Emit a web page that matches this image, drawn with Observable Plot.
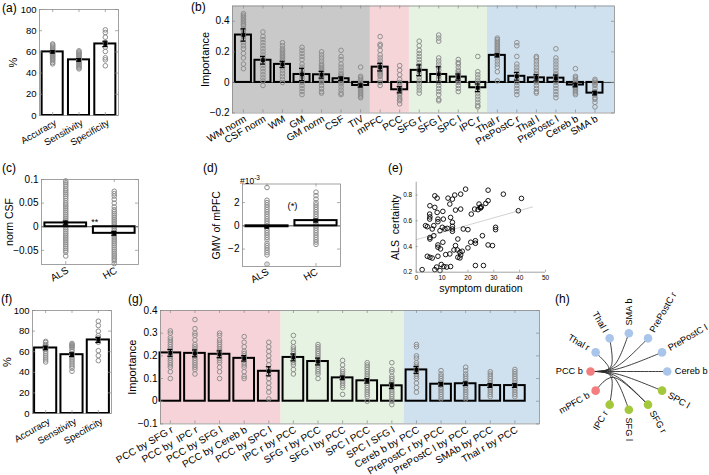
<!DOCTYPE html>
<html><head><meta charset="utf-8">
<script src="https://cdn.jsdelivr.net/npm/d3@7"></script>
<script src="https://cdn.jsdelivr.net/npm/@observablehq/plot@0.6"></script>
<style>
body{margin:0;background:#fff;}
#wrap{position:relative;width:709px;height:475px;overflow:hidden;font-family:"Liberation Sans",Arial,sans-serif;background:#fff;}
#wrap svg{position:absolute;left:0;top:0;}
.lab{position:absolute;font-size:12px;line-height:12px;white-space:nowrap;}
</style></head><body><div id="wrap"></div>
<script>
// ---------- data ----------
const aCats = ["Accuracy","Sensitivity","Specificity"];
const aVals = [60, 52.5, 67.5];
const aErrs = [1, 1.2, 2.5];
const aDots = [
  [67.5,66.5,65.5,64.5,63.5,62.5,61.5,60.5,59.5,58.5,57.5,56.5,55.5,54.5,53.5,52.5,51.5,50,48.7],
  [61,60,59,58,57,56,55,54,53,52,51,50,49,48,47,46,45,44],
  [80.8,78.3,73.9,69,64.5,60.4,54.4,52.5,46.9]
];

const bCats = ["WM norm","CSF norm","WM","GM","GM norm","CSF","TIV","mPFC","PCC","SFG r","SFG l","SPC l","IPC r","Thal r","PrePostC r","Thal l","PrePostc l","Cereb b","SMA b"];
const bVals = [0.31,0.145,0.118,0.052,0.05,0.024,-0.02,0.1,-0.048,0.079,0.052,0.035,-0.035,0.177,0.04,0.03,0.028,-0.017,-0.07];
const bErrs = [0.04,0.025,0.02,0.04,0.022,0.012,0.01,0.025,0.02,0.035,0.05,0.02,0.025,0.01,0.025,0.02,0.02,0.012,0.012];
const bDots = [
  [0.45,0.44,0.43,0.42,0.41,0.40,0.39,0.38,0.37,0.35,0.34,0.32,0.30,0.28,0.26,0.24,0.22,0.19,0.16,0.12,0.09],
  [0.33,0.30,0.28,0.26,0.24,0.22,0.20,0.18,0.16,0.15,0.13,0.11,0.09,0.07,0.05,0.03,0.01,-0.02],
  [0.26,0.24,0.22,0.21,0.20,0.19,0.18,0.17,0.16,0.15,0.14,0.12,0.10,0.08,0.06,0.04,0.02,0.00],
  [0.23,0.21,0.19,0.17,0.15,0.12,0.10,0.08,0.06,0.04,0.02,0.00,-0.02,-0.04,-0.06,-0.08],
  [0.20,0.18,0.16,0.14,0.12,0.11,0.10,0.09,0.08,0.07,0.06,0.05,0.04,0.03,0.02,0.01,0.00,-0.02,-0.04,-0.06,-0.07],
  [0.21,0.17,0.15,0.12,0.10,0.08,0.06,0.05,0.04,0.03,0.02,0.01,0.00,-0.01,-0.03,-0.05,-0.07,-0.08],
  [0.10,0.04,0.03,0.02,0.01,0.00,-0.01,-0.02,-0.03,-0.04,-0.05,-0.06,-0.07,-0.08,-0.09,-0.10],
  [0.30,0.25,0.24,0.21,0.18,0.16,0.14,0.12,0.11,0.10,0.09,0.08,0.07,0.06,0.05,0.04,0.02,0.00,-0.02],
  [0.11,0.08,0.05,0.02,0.00,-0.02,-0.03,-0.04,-0.05,-0.06,-0.07,-0.08,-0.10,-0.11,-0.12,-0.14],
  [0.27,0.24,0.21,0.19,0.17,0.15,0.13,0.11,0.09,0.07,0.05,0.03,0.01,-0.01,-0.03,-0.05,-0.07],
  [0.31,0.29,0.27,0.16,0.14,0.12,0.10,0.08,0.06,0.04,0.02,0.00,-0.02,-0.04,-0.06,-0.08,-0.11,-0.12],
  [0.15,0.13,0.12,0.10,0.08,0.07,0.06,0.05,0.04,0.03,0.02,0.01,0.00,-0.02,-0.04,-0.06],
  [0.17,0.07,0.05,0.03,0.01,-0.01,-0.03,-0.05,-0.07,-0.09,-0.11,-0.13,-0.15,-0.16],
  [0.29,0.28,0.27,0.26,0.25,0.24,0.23,0.22,0.21,0.20,0.19,0.18,0.16,0.14,0.12,0.10,0.07,0.01],
  [0.26,0.24,0.17,0.12,0.10,0.08,0.06,0.04,0.02,0.00,-0.02,-0.04,-0.06,-0.08],
  [0.17,0.16,0.14,0.12,0.10,0.08,0.06,0.05,0.04,0.03,0.02,0.01,0.00,-0.02,-0.04,-0.06,-0.07],
  [0.22,0.16,0.14,0.12,0.10,0.08,0.06,0.05,0.04,0.03,0.02,0.01,0.00,-0.02,-0.04,-0.06,-0.08,-0.10],
  [0.09,0.04,0.03,0.02,0.01,0.00,-0.01,-0.02,-0.03,-0.04,-0.05,-0.06,-0.07,-0.08],
  [0.02,0.01,0.00,-0.01,-0.02,-0.04,-0.06,-0.08,-0.10,-0.11,-0.13,-0.16]
];
const bBandStart = [0.44, 7.5, 9.5, 13.5];
const bBandEnd = [7.5, 9.5, 13.5, 20];
const bBandColor = ["#c9c9c9", "#f6d5d9", "#e6f3e2", "#cfe1ef"];

const cCats = ["ALS","HC"];
const cVals = [0.008, -0.014];
const cErrs = [0.004, 0.004];
const cDots = [
  [0.097,0.093,0.089,0.085,0.08,0.076,0.072,0.068,0.064,0.06,0.055,0.05,0.046,0.042,0.038,0.034,0.03,0.026,0.022,0.018,0.014,0.01,0.006,0.002,-0.002,-0.006,-0.01,-0.014,-0.018,-0.022,-0.026,-0.03,-0.034,-0.038,-0.042,-0.046,-0.05,-0.054,-0.062],
  [0.075,0.07,0.065,0.058,0.05,0.042,0.036,0.032,0.028,0.024,0.02,0.016,0.012,0.008,0.004,0,-0.004,-0.008,-0.012,-0.016,-0.02,-0.024,-0.028,-0.032,-0.036,-0.04,-0.044,-0.048,-0.052,-0.056,-0.06,-0.064,-0.068,-0.072,-0.078]
];

const dCats = ["ALS","HC"];
const dVals = [-0.08, 0.45];
const dErrs = [0.1, 0.12];
const dDots = [
  [3.3,2.2,2.0,1.8,1.6,1.4,1.2,1.0,0.8,0.6,0.4,0.2,0,-0.2,-0.4,-0.6,-0.8,-1.0,-1.2,-1.5,-1.7,-1.9,-2.1,-2.3,-2.5,-3.3],
  [2.9,2.6,2.3,2.0,1.8,1.6,1.4,1.2,1.0,0.8,0.6,0.4,0.2,0,-0.2,-0.4,-0.6,-0.8,-1.0,-1.2,-1.4,-1.6]
];
const dBarFill = ["black", "none"];

const eScatter = [[2.3,0.22],[4.3,0.324],[5.3,0.316],[6.2,0.31],[7.2,0.22],[7.9,0.24],[8.4,0.324],[9.2,0.213],[9.7,0.26],[10.7,0.244],[11.8,0.24],[13.3,0.244],
  [5.3,0.717],[5.2,0.652],[5.3,0.63],[5.2,0.613],[5.3,0.47],[5.3,0.458],[4.3,0.554],[6.2,0.536],[6.8,0.562],[7.2,0.704],[7.2,0.794],[8.1,0.776],[8.1,0.665],
  [8.4,0.613],[8.4,0.593],[6.8,0.484],[8.4,0.412],[8.4,0.394],[9.4,0.381],[9.2,0.523],[10.1,0.549],[10.3,0.673],[10.5,0.613],[10.3,0.433],[11.4,0.337],
  [12.3,0.776],[13.0,0.73],[13.0,0.342],[13.3,0.626],[14.0,0.768],[14.9,0.8],[15.2,0.683],[17.2,0.807],[17.2,0.691],[14.0,0.588],[14.0,0.557],[14.0,0.536],
  [14.0,0.518],[12.0,0.541],[11.1,0.536],[15.2,0.407],[14.6,0.373],[15.9,0.373],[16.1,0.316],[16.9,0.311],[17.2,0.334],[16.9,0.355],[17.8,0.363],[16.1,0.458],
  [18.2,0.536],[20.0,0.531],[19.1,0.846],[20.0,0.389],[21.1,0.433],[21.3,0.652],[22.6,0.691],[22.9,0.425],[22.9,0.445],[22.9,0.252],[24.3,0.73],[24.7,0.704],
  [24.9,0.699],[25.2,0.709],[23.9,0.686],[25.6,0.484],[26.0,0.252],[26.9,0.735],[27.8,0.756],[27.8,0.838],[27.8,0.412],[29.5,0.407],[30.7,0.549],[30.7,0.531],
  [33.7,0.807],[39.5,0.678],[40.7,0.774],[3.6,0.562]];
const eTrend = [[0,0.453],[45,0.708]];
const eXTicks = [0,10,20,30,40,50];
const eYTicks = [0.2,0.4,0.6,0.8];

const fCats = ["Accuracy","Sensitivity","Specificity"];
const fVals = [63.6, 57.1, 71.4];
const fErrs = [1.8, 1.8, 2.5];
const fDots = [
  [70,69,67,66,64,62,60,58,56,54,52,50],
  [68,67,66,65,64,62,60,58,56,54,52,50,48,46,44,41],
  [89.6,85.4,79.9,75.6,73.4,69.2,61,56.2,51.3]
];

const gCats = ["PCC by SFG r","PCC by  IPC r","PCC by SFG l","PCC by Cereb b","PCC by SPC l","IPC r by PCC","SFG r by PCC","SFG l by PCC","SPC l PCC","SPC l SFG l","Cereb b by PCC","PrePostC r by PCC","PrePostC l by PCC","SMAb by PCC","Thal r by PCC"];
const gVals = [0.213,0.211,0.207,0.189,0.132,0.193,0.175,0.103,0.09,0.068,0.138,0.075,0.077,0.069,0.069];
const gErrs = [0.015,0.015,0.015,0.012,0.02,0.015,0.015,0.008,0.01,0.012,0.015,0.008,0.008,0.008,0.008];
const gDots = [
  [0.31,0.30,0.28,0.27,0.26,0.25,0.24,0.23,0.22,0.21,0.20,0.19,0.18,0.17,0.16,0.15,0.13,0.10],
  [0.36,0.32,0.30,0.29,0.27,0.25,0.24,0.23,0.22,0.21,0.20,0.19,0.18,0.17,0.16,0.15,0.14,0.12],
  [0.30,0.29,0.27,0.26,0.25,0.24,0.23,0.22,0.21,0.20,0.19,0.18,0.17,0.15,0.13,0.10],
  [0.285,0.26,0.24,0.22,0.21,0.20,0.19,0.18,0.17,0.16,0.15,0.13,0.11,0.10],
  [0.26,0.24,0.22,0.20,0.18,0.16,0.14,0.12,0.10,0.08,0.06,0.04,0.01],
  [0.29,0.26,0.24,0.23,0.22,0.21,0.20,0.19,0.18,0.17,0.16,0.14,0.12],
  [0.25,0.24,0.23,0.22,0.21,0.20,0.19,0.18,0.17,0.16,0.15,0.14,0.13,0.12,0.10],
  [0.18,0.16,0.14,0.13,0.12,0.11,0.10,0.09,0.08,0.07,0.06,0.03],
  [0.17,0.16,0.15,0.14,0.13,0.12,0.11,0.10,0.09,0.08,0.07,0.06,0.05,0.04,0.03,0.02,0.00],
  [0.17,0.14,0.13,0.11,0.10,0.09,0.08,0.07,0.06,0.05,0.04,0.03,0.02,0.01,0.00,-0.015],
  [0.25,0.24,0.20,0.19,0.17,0.16,0.15,0.14,0.13,0.12,0.11,0.10,0.08,0.06,0.04],
  [0.135,0.12,0.11,0.10,0.09,0.08,0.07,0.06,0.05,0.04,0.03,0.02,0.01],
  [0.15,0.135,0.12,0.11,0.10,0.09,0.08,0.07,0.06,0.05,0.04,0.03,0.02,0.01],
  [0.13,0.12,0.11,0.10,0.09,0.08,0.07,0.06,0.05,0.04,0.03,0.02],
  [0.14,0.13,0.12,0.11,0.10,0.09,0.08,0.07,0.06,0.05,0.04,0.03,0.02]
];
const gBandStart = [0.6, 5.5, 10.5];
const gBandEnd = [5.5, 10.5, 16];
const gBandColor = ["#f6d3d8", "#e6f3e2", "#cfe1ef"];

const hNames = ["PCC b","Thal r","Thal l","SMA b","PrePostC r","PrePostC l","Cereb b","SPC l","SFG r","SFG l","IPC r","mPFC b"];
const hAngles = [180,150,120,90,60,30,0,-30,-60,-90,-120,-150];
const hGroups = ["dmn","sub","sub","sub","sub","sub","sub","fpn","fpn","fpn","fpn","dmn"];
const hGroupColor = {dmn: "#f47d7f", sub: "#a9c5ea", fpn: "#a4c83c"};
const hEdges = [["PCC b","Thal r"],["PCC b","Thal l"],["PCC b","SMA b"],["PCC b","PrePostC r"],["PCC b","PrePostC l"],["PCC b","Cereb b"],["PCC b","SPC l"],["PCC b","SFG r"],["PCC b","SFG l"],["PCC b","IPC r"],["mPFC b","SFG r"]];

// ---------- layout ----------
const W = 709, H = 475;
const FONT = "Liberation Sans, Arial, Helvetica, sans-serif";
const wrap = document.getElementById("wrap");
const fmt = v => (v < 0 ? "\u2212" : "") + Math.abs(v);
const FRAME = "#8a8a8a";

function base(frame, x, y, marks) {
  const svg = Plot.plot({
    width: W, height: H,
    marginLeft: frame[0], marginRight: W - frame[1], marginTop: frame[2], marginBottom: H - frame[3],
    x, y, marks,
    style: {fontFamily: FONT, fontSize: "10px", background: "transparent", overflow: "visible"}
  });
  wrap.appendChild(svg);
}

function innerTicks(frame, xd, yd, xt, yt, {len = 3, top = true, right = true} = {}) {
  const ky = (frame[3] - frame[2]) / (yd[1] - yd[0]);
  const kx = (frame[1] - frame[0]) / (xd[1] - xd[0]);
  const dy = len / ky, dx = len / kx;
  const st = {stroke: FRAME, strokeWidth: 0.7};
  const m = [Plot.ruleX(xt, {x: d => d, y1: yd[0], y2: yd[0] + dy, ...st})];
  if (top) m.push(Plot.ruleX(xt, {x: d => d, y1: yd[1] - dy, y2: yd[1], ...st}));
  m.push(Plot.ruleY(yt, {y: d => d, x1: xd[0], x2: xd[0] + dx, ...st}));
  if (right) m.push(Plot.ruleY(yt, {y: d => d, x1: xd[1] - dx, x2: xd[1], ...st}));
  return m;
}

function barPanel(o) {
  const {cats, vals, errs, dots, frame, xd, yd, yt, hw, bands = null, ylabel, ylabDx, ylabFs = 11,
    fs = 10, capPx = 2.5, zero = false, fills = null, dotsFirst = false, extra = [], tickPad = 5, tickDx = 2} = o;
  const kx = (frame[1] - frame[0]) / (xd[1] - xd[0]);
  const cap = capPx / kx;
  const idx = cats.map((_, i) => i + 1);
  const bars = cats.map((c, i) => ({i: i + 1, v: vals[i], e: errs[i], f: fills ? fills[i] : "none"}));
  const pts = dots.flatMap((arr, i) => arr.map(v => ({i: i + 1, v})));
  const dotMark = Plot.dot(pts, {x: "i", y: "v", r: 2.3, stroke: "#8e8e8e", strokeWidth: 1, fill: "none"});
  const marks = [];
  if (bands) marks.push(Plot.rect(bands.start.map((s, k) => ({x1: s, x2: bands.end[k], fill: bands.color[k]})),
    {x1: "x1", x2: "x2", y1: yd[0], y2: yd[1], fill: "fill"}));
  if (zero) marks.push(Plot.ruleY([0], {stroke: "#222", strokeWidth: 0.8}));
  if (dotsFirst) marks.push(dotMark);
  const filled = bars.filter(b => b.f !== "none");
  if (filled.length) marks.push(Plot.rect(filled, {x1: d => d.i - hw, x2: d => d.i + hw, y1: 0, y2: "v", fill: "black"}));
  marks.push(Plot.rect(bars, {x1: d => d.i - hw, x2: d => d.i + hw, y1: 0, y2: "v", fill: "none", stroke: "black", strokeWidth: 2}));
  if (!dotsFirst) marks.push(dotMark);
  marks.push(
    Plot.ruleX(bars, {x: "i", y1: d => d.v - d.e, y2: d => d.v + d.e, stroke: "black", strokeWidth: 1.3}),
    Plot.ruleY(bars, {y: d => d.v + d.e, x1: d => d.i - cap, x2: d => d.i + cap, stroke: "black", strokeWidth: 1.2}),
    Plot.ruleY(bars, {y: d => d.v - d.e, x1: d => d.i - cap, x2: d => d.i + cap, stroke: "black", strokeWidth: 1.2}),
    Plot.dot(bars, {x: "i", y: "v", symbol: "square", r: 2.1, fill: "black"}),
    Plot.frame({stroke: FRAME, strokeWidth: 0.8}),
    ...innerTicks(frame, xd, yd, idx, yt),
    Plot.axisX(idx, {anchor: "bottom", tickSize: 0, tickPadding: tickPad, tickRotate: -30, textAnchor: "end",
      tickFormat: i => cats[i - 1], fontSize: fs, dx: tickDx, label: null}),
    Plot.axisY(yt, {anchor: "left", tickSize: 0, tickPadding: 3, tickFormat: fmt, fontSize: fs, label: null}),
    Plot.text([ylabel], {text: d => d, frameAnchor: "left", dx: ylabDx, rotate: -90, fontSize: ylabFs, textAnchor: "middle"}),
    ...extra
  );
  base(frame, {domain: xd}, {domain: yd}, marks);
}

// (a)
barPanel({cats: aCats, vals: aVals, errs: aErrs, dots: aDots, frame: [39, 118, 9, 115], xd: [0.5, 3.5], yd: [0, 100],
  yt: [0, 20, 40, 60, 80, 100], hw: 0.4, ylabel: "%", ylabDx: -26.5, fs: 9.5, tickPad: 6.5, tickDx: 3});
// (b)
barPanel({cats: bCats, vals: bVals, errs: bErrs, dots: bDots, frame: [232, 614, 5.5, 112.5], xd: [0.44, 20], yd: [-0.2, 0.5],
  yt: [-0.2, 0, 0.2, 0.4], hw: 0.41, bands: {start: bBandStart, end: bBandEnd, color: bBandColor}, zero: true,
  ylabel: "Importance", ylabDx: -27});
// (c)
barPanel({cats: cCats, vals: cVals, errs: cErrs, dots: cDots, frame: [41, 138, 179, 264], xd: [0.5, 2.5], yd: [-0.08, 0.1],
  yt: [-0.05, 0, 0.05, 0.1], hw: 0.43, zero: true, dotsFirst: true, ylabel: "norm CSF", ylabDx: -31.8, ylabFs: 10.5,
  tickPad: 5, tickDx: 2,
  extra: [Plot.text(["**"], {text: d => d, x: 1.6, y: 0.009, fontSize: 9})]});
// (d)
barPanel({cats: dCats, vals: dVals, errs: dErrs, dots: dDots, frame: [242, 340, 183.5, 266], xd: [0.5, 2.5], yd: [-3.5, 3.6],
  yt: [-2, 0, 2], hw: 0.43, zero: true, dotsFirst: true, fills: dBarFill, ylabel: "GMV of mPFC", ylabDx: -26, ylabFs: 10.5,
  tickPad: 4.5, tickDx: 1,
  extra: [Plot.text(["(*)"], {text: d => d, x: 1.52, y: 1.7, fontSize: 9.5})]});
// (f)
barPanel({cats: fCats, vals: fVals, errs: fErrs, dots: fDots, frame: [32, 111, 310, 413], xd: [0.5, 3.5], yd: [0, 100],
  yt: [0, 20, 40, 60, 80, 100], hw: 0.42, ylabel: "%", ylabDx: -25, fs: 9.5, tickPad: 7, tickDx: 3.5});
// (g)
barPanel({cats: gCats, vals: gVals, errs: gErrs, dots: gDots, frame: [160, 539, 310, 423.4], xd: [0.6, 16], yd: [-0.1, 0.4],
  yt: [-0.1, 0, 0.1, 0.2, 0.3, 0.4], hw: 0.42, bands: {start: gBandStart, end: gBandEnd, color: gBandColor},
  ylabel: "Importance", ylabDx: -28.5});

// (e)
{
  const frame = [415.7, 545, 181.7, 271.7], xd = [0, 50], yd = [0.2, 0.9];
  base(frame, {domain: xd}, {domain: yd}, [
    Plot.line(eTrend, {x: d => d[0], y: d => d[1], stroke: "#d2d2d2", strokeWidth: 1}),
    Plot.dot(eScatter, {x: d => d[0], y: d => d[1], r: 2.3, stroke: "black", strokeWidth: 0.9}),
    Plot.ruleX([0], {stroke: FRAME, strokeWidth: 0.8}),
    Plot.ruleY([0.2], {stroke: FRAME, strokeWidth: 0.8}),
    ...innerTicks(frame, xd, yd, eXTicks, eYTicks, {len: 2, top: false, right: false}),
    Plot.axisX(eXTicks, {anchor: "bottom", tickSize: 0, tickPadding: 3, fontSize: 6.5, label: null}),
    Plot.axisY(eYTicks, {anchor: "left", tickSize: 0, tickPadding: 4, fontSize: 6.5, tickFormat: d => d.toFixed(1), label: null}),
    Plot.text(["ALS  certainty"], {text: d => d, frameAnchor: "left", dx: -20.7, rotate: -90, fontSize: 10.5, textAnchor: "middle"}),
    Plot.text(["symptom duration"], {text: d => d, frameAnchor: "bottom", dy: 19.5, lineAnchor: "bottom", fontSize: 10.5, textAnchor: "middle"})
  ]);
}

// (h)
{
  const rad = a => a * Math.PI / 180;
  const nodes = hNames.map((n, i) => ({name: n, a: hAngles[i], x: Math.cos(rad(hAngles[i])), y: Math.sin(rad(hAngles[i])), c: hGroupColor[hGroups[i]]}));
  const pos = Object.fromEntries(nodes.map(n => [n.name, [n.x, n.y]]));
  const edgePts = hEdges.flatMap(([s, t], k) => {
    const S = pos[s], T = pos[t];
    const c1 = [-0.5, S[1] * 0.1];
    const c2 = [(c1[0] + 0.6 * T[0]) / 2, (c1[1] + 0.6 * T[1]) / 2];
    return [S, c1, c2, T].map(p => ({k, x: p[0], y: p[1]}));
  });
  const R = 1.2;
  const left = nodes.filter(n => n.x < -1e-6), right = nodes.filter(n => n.x >= -1e-6);
  base([590, 666.7, 332.7, 409.3], {domain: [-1, 1], axis: null}, {domain: [-1, 1], axis: null}, [
    Plot.line(edgePts, {x: "x", y: "y", z: "k", curve: "basis", stroke: "#2a2a2a", strokeWidth: 0.9}),
    Plot.dot(nodes, {x: "x", y: "y", r: 4.3, fill: "c"}),
    Plot.text(left, {x: d => R * d.x, y: d => R * d.y, text: "name", textAnchor: "end", fontSize: 9.2,
      rotate: d => Math.atan2(Math.sin(rad(d.a)), -Math.cos(rad(d.a))) * 180 / Math.PI}),
    Plot.text(right, {x: d => R * d.x, y: d => R * d.y, text: "name", textAnchor: "start", fontSize: 9.2,
      rotate: d => -d.a})
  ]);
}

// panel letters and extra annotations
const letters = [["(a)", 2, 2], ["(b)", 191, 1], ["(c)", 2, 162], ["(d)", 203, 162], ["(e)", 388, 162], ["(f)", 1, 293], ["(g)", 128, 293], ["(h)", 555, 293]];
for (const [t, l, tp] of letters) {
  const d = document.createElement("div");
  d.className = "lab"; d.textContent = t; d.style.left = l + "px"; d.style.top = tp + "px";
  wrap.appendChild(d);
}
const sci = document.createElement("div");
sci.className = "lab"; sci.style.fontSize = "8.5px"; sci.style.left = "240px"; sci.style.top = "172px";
sci.innerHTML = "#10<sup style='font-size:6.5px'>-3</sup>";
wrap.appendChild(sci);
</script></body></html>
